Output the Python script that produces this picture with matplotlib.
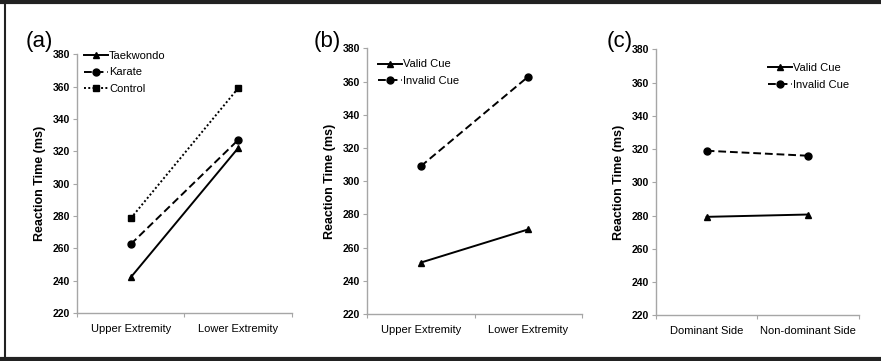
import matplotlib
matplotlib.use('Agg')
import matplotlib.pyplot as plt
from matplotlib.lines import Line2D

plt.rcParams['font.family'] = ['Liberation Sans', 'DejaVu Sans']

# panel (a)
limb_labels = ['Upper Extremity', 'Lower Extremity']
taekwondo = [242, 322]
karate = [262.5, 327]
control = [278.5, 359]

# panel (b)
cue_limb_valid = [251, 271]
cue_limb_invalid = [309, 363]

# panel (c)
side_labels = ['Dominant Side', 'Non-dominant Side']
cue_side_valid = [279.2, 280.6]
cue_side_invalid = [319, 316]

yticks = [220, 240, 260, 280, 300, 320, 340, 360, 380]
grey = '#a6a6a6'


def style_axes(ax, labels):
    for s in ['top', 'right']:
        ax.spines[s].set_visible(False)
    for s in ['left', 'bottom']:
        ax.spines[s].set_color(grey)
        ax.spines[s].set_linewidth(1.0)
    ax.set_ylim(220, 380)
    ax.set_yticks(yticks)
    ax.set_xlim(-0.5, 1.5)
    ax.set_xticks([-0.5, 0.5, 1.5])
    ax.set_xticklabels([])
    ax.set_xticks([0, 1], minor=True)
    ax.set_xticklabels(labels, minor=True)
    ax.tick_params(axis='x', which='major', length=3, color=grey, direction='out')
    ax.tick_params(axis='x', which='minor', length=0, labelsize=8, pad=8)
    ax.tick_params(axis='y', length=3, color=grey, labelsize=7.5, pad=2)
    for t in ax.get_yticklabels():
        t.set_fontweight('bold')
    ax.set_ylabel('Reaction Time (ms)', fontsize=9, fontweight='bold', labelpad=5)
    ax.patch.set_alpha(0)


fig = plt.figure(figsize=(8.81, 3.61), dpi=100)

mk = dict(color='black', markersize=5, linewidth=1.4)
leg = dict(loc='upper left', frameon=False, fontsize=8, handlelength=2.2,
           handletextpad=0.1, labelspacing=0.6, borderaxespad=0)

ax1 = fig.add_axes([0.0874, 0.133, 0.244, 0.717])
ax1.plot([0, 1], taekwondo, linestyle='-', marker='^', label='Taekwondo', **mk)
ax1.plot([0, 1], karate, linestyle=(0, (4, 2)), marker='o', label='Karate', **mk)
ax1.plot([0, 1], control, linestyle=(0, (1, 1.2)), marker='s', label='Control', **mk)
style_axes(ax1, limb_labels)
ax1.legend(bbox_to_anchor=(0.01, 1.03), **leg)

ax2 = fig.add_axes([0.4166, 0.130, 0.244, 0.736])
ax2.plot([0, 1], cue_limb_valid, linestyle='-', marker='^', label='Valid Cue', **mk)
ax2.plot([0, 1], cue_limb_invalid, linestyle=(0, (4, 2)), marker='o', label='Invalid Cue', **mk)
style_axes(ax2, limb_labels)
ax2.legend(bbox_to_anchor=(0.03, 0.975), **leg)

ax3 = fig.add_axes([0.7446, 0.127, 0.230, 0.736])
ax3.plot([0, 1], cue_side_valid, linestyle='-', marker='^', label='Valid Cue', **mk)
ax3.plot([0, 1], cue_side_invalid, linestyle=(0, (4, 2)), marker='o', label='Invalid Cue', **mk)
style_axes(ax3, side_labels)
ax3.legend(bbox_to_anchor=(0.53, 0.965), **leg)

fig.text(0.029, 0.87, '(a)', fontsize=16)
fig.text(0.356, 0.87, '(b)', fontsize=16)
fig.text(0.688, 0.87, '(c)', fontsize=16)

# outer frame
fig.add_artist(Line2D([0, 1], [0.995, 0.995], transform=fig.transFigure, color='#222222', linewidth=3))
fig.add_artist(Line2D([0, 1], [0.005, 0.005], transform=fig.transFigure, color='#222222', linewidth=3))
fig.add_artist(Line2D([0.0057, 0.0057], [0, 1], transform=fig.transFigure, color='#222222', linewidth=1.5))

fig.savefig('out.png', dpi=100)
